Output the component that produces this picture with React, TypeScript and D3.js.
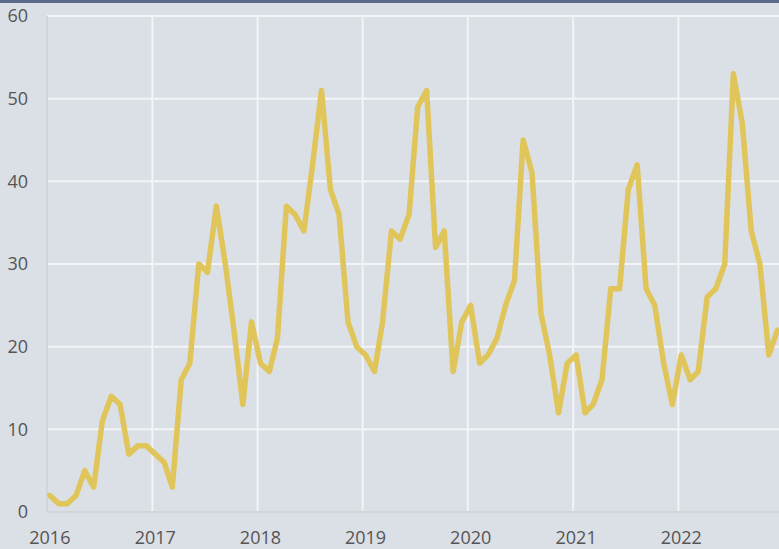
import { useRef, useEffect } from "react";
import * as d3 from "d3";

// monthly values, Jan..Dec
const years = [2016, 2017, 2018, 2019, 2020, 2021, 2022];
const values2016 = [2, 1, 1, 2, 5, 3, 11, 14, 13, 7, 8, 8];
const values2017 = [7, 6, 3, 16, 18, 30, 29, 37, 30, 22, 13, 23];
const values2018 = [18, 17, 21, 37, 36, 34, 42, 51, 39, 36, 23, 20];
const values2019 = [19, 17, 23, 34, 33, 36, 49, 51, 32, 34, 17, 23];
const values2020 = [25, 18, 19, 21, 25, 28, 45, 41, 24, 19, 12, 18];
const values2021 = [19, 12, 13, 16, 27, 27, 39, 42, 27, 25, 18, 13];
const values2022 = [19, 16, 17, 26, 27, 30, 53, 47, 34, 30, 19, 22];
const yTicks = [0, 10, 20, 30, 40, 50, 60];

const W = 779;
const H = 549;

const App = () => {
  const ref = useRef<SVGSVGElement>(null);

  useEffect(() => {
    if (!ref.current) return;
    const svg = d3.select(ref.current);
    svg.selectAll("*").remove();

    const all = [values2016, values2017, values2018, values2019, values2020, values2021, values2022];
    const data = all.flatMap((vals, yi) =>
      vals.map((v, m) => ({ date: new Date(years[yi], m, 11), value: v }))
    );

    const x = d3
      .scaleTime()
      .domain([new Date(2016, 0, 1), new Date(2023, 0, 1)])
      .range([47, 783.5]);
    const y = d3.scaleLinear().domain([0, 60]).range([512, 16]);

    svg.append("rect").attr("width", W).attr("height", H).attr("fill", "#dbdfe6");
    svg.append("rect").attr("width", W).attr("height", 3).attr("fill", "#5c6b8a");

    // horizontal grid
    svg
      .append("g")
      .selectAll("line")
      .data(yTicks.filter((t) => t > 0))
      .join("line")
      .attr("x1", 47)
      .attr("x2", W)
      .attr("y1", (d) => y(d))
      .attr("y2", (d) => y(d))
      .attr("stroke", "#f3f4f6")
      .attr("stroke-width", 2);

    // vertical grid at year starts
    svg
      .append("g")
      .selectAll("line")
      .data(years.slice(1))
      .join("line")
      .attr("x1", (d) => x(new Date(d, 0, 1)))
      .attr("x2", (d) => x(new Date(d, 0, 1)))
      .attr("y1", 16)
      .attr("y2", 512)
      .attr("stroke", "#f3f4f6")
      .attr("stroke-width", 2);

    // axis lines
    svg.append("line").attr("x1", 47).attr("x2", 47).attr("y1", 16).attr("y2", 512)
      .attr("stroke", "#d3d5d9").attr("stroke-width", 2);
    svg.append("line").attr("x1", 47).attr("x2", W).attr("y1", 512).attr("y2", 512)
      .attr("stroke", "#d3d5d9").attr("stroke-width", 2);

    // y labels
    svg
      .append("g")
      .selectAll("text")
      .data(yTicks)
      .join("text")
      .attr("x", 28)
      .attr("y", (d) => y(d))
      .attr("dy", "0.35em")
      .attr("text-anchor", "end")
      .style("font-family", "'Open Sans', sans-serif")
      .style("font-size", "18px")
      .style("fill", "#555")
      .text((d) => d);

    // x labels
    svg
      .append("g")
      .selectAll("text")
      .data(years)
      .join("text")
      .attr("x", (d) => x(new Date(d, 0, 11)))
      .attr("y", 544)
      .attr("text-anchor", "middle")
      .style("font-family", "'Open Sans', sans-serif")
      .style("font-size", "18px")
      .style("fill", "#555")
      .text((d) => d);

    const line = d3
      .line<{ date: Date; value: number }>()
      .x((d) => x(d.date))
      .y((d) => y(d.value));

    svg
      .append("path")
      .datum(data)
      .attr("d", line)
      .attr("fill", "none")
      .attr("stroke", "#e0c65a")
      .attr("stroke-width", 5.5)
      .attr("stroke-linejoin", "round")
      .attr("stroke-linecap", "round");
  }, []);

  return (
    <svg
      ref={ref}
      width={W}
      height={H}
      style={{ position: "absolute", top: 0, left: 0, display: "block" }}
    />
  );
};

export default App;
